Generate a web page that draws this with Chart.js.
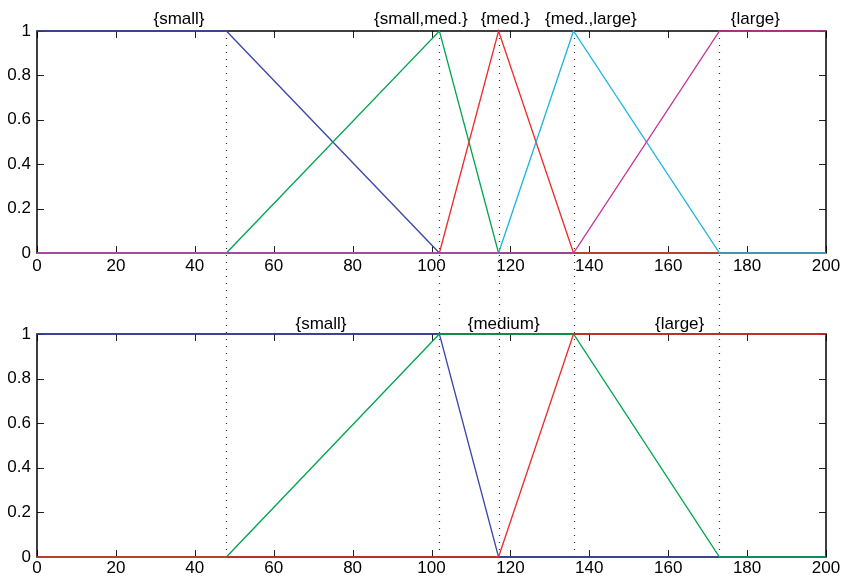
<!DOCTYPE html>
<html>
<head>
<meta charset="utf-8">
<title>Membership functions</title>
<script src="https://cdn.jsdelivr.net/npm/chart.js@4.4.0/dist/chart.umd.min.js"></script>
<style>
  html, body { margin: 0; padding: 0; background: #fff; }
  #figure { position: relative; width: 845px; height: 582px; }
  .panel { position: absolute; left: 0; width: 845px; }
  #topPanel { top: 0; height: 290px; }
  #bottomPanel { top: 290px; height: 292px; }
</style>
</head>
<body>
<div id="figure">
  <div class="panel" id="topPanel"><canvas id="topChart"></canvas></div>
  <div class="panel" id="bottomPanel"><canvas id="bottomChart"></canvas></div>
</div>
<script>
// Break points shared by both panels (dotted guides)
const breakPoints = [48, 102, 117, 136, 173];

// Upper panel: five sets
const topSmallX = [0, 48, 102, 200];
const topSmallY = [1, 1, 0, 0];
const topSmallMedX = [0, 48, 102, 117, 200];
const topSmallMedY = [0, 0, 1, 0, 0];
const topMedX = [0, 102, 117, 136, 200];
const topMedY = [0, 0, 1, 0, 0];
const topMedLargeX = [0, 117, 136, 173, 200];
const topMedLargeY = [0, 0, 1, 0, 0];
const topLargeX = [0, 136, 173, 200];
const topLargeY = [0, 0, 1, 1];

const topLabels = ["{small}", "{small,med.}", "{med.}", "{med.,large}", "{large}"];
const topLabelX = [36, 97.3, 118.7, 140.4, 182.1];

// Lower panel: three sets
const botSmallX = [0, 102, 117, 200];
const botSmallY = [1, 1, 0, 0];
const botMediumX = [0, 48, 102, 136, 173, 200];
const botMediumY = [0, 0, 1, 1, 0, 0];
const botLargeX = [0, 117, 136, 200];
const botLargeY = [0, 0, 1, 1];

const botLabels = ["{small}", "{medium}", "{large}"];
const botLabelX = [72, 118.3, 162.9];

const xTicks = [0, 20, 40, 60, 80, 100, 120, 140, 160, 180, 200];
const yTicks = [0, 0.2, 0.4, 0.6, 0.8, 1];

const BLUE = "#3c48a6";
const GREEN = "#00a650";
const RED = "#ee2a2a";
const CYAN = "#1cb5de";
const MAGENTA = "#c8329e";

const FONT = '"Liberation Sans", Helvetica, Arial, sans-serif';
const TICK_LEN = 7;

function points(xs, ys) {
    return xs.map((x, i) => ({ x: x, y: ys[i] }));
}

function series(xs, ys, color, order) {
    return {
        data: points(xs, ys),
        borderColor: color,
        borderWidth: 1.3,
        pointRadius: 0,
        tension: 0,
        fill: false,
        order: order,
        clip: 2,
    };
}

// Box, inward ticks, dotted guides and set labels
function decorPlugin(cfg) {
    return {
        id: "decor",
        beforeDatasetsDraw(chart) {
            const ctx = chart.ctx;
            const a = chart.chartArea;
            const x = chart.scales.x;
            const y = chart.scales.y;
            ctx.save();

            ctx.strokeStyle = "#222";
            ctx.lineWidth = 1;
            ctx.beginPath();
            xTicks.forEach((v) => {
                const px = Math.round(x.getPixelForValue(v)) + 0.5;
                ctx.moveTo(px, a.bottom);
                ctx.lineTo(px, a.bottom - TICK_LEN);
                ctx.moveTo(px, a.top);
                ctx.lineTo(px, a.top + TICK_LEN);
            });
            yTicks.forEach((v) => {
                const py = Math.round(y.getPixelForValue(v)) + 0.5;
                ctx.moveTo(a.left, py);
                ctx.lineTo(a.left + TICK_LEN, py);
                ctx.moveTo(a.right, py);
                ctx.lineTo(a.right - TICK_LEN, py);
            });
            ctx.stroke();

            ctx.strokeStyle = "#000";
            ctx.lineWidth = 1.5;
            ctx.strokeRect(a.left, a.top, a.right - a.left, a.bottom - a.top);

            ctx.strokeStyle = "#333";
            ctx.lineWidth = 1.2;
            ctx.setLineDash([1, 6]);
            ctx.beginPath();
            const from = cfg.dotsFromTop ? a.top : 0;
            const to = cfg.dotsFromTop ? chart.height : a.bottom;
            breakPoints.forEach((b) => {
                const px = Math.round(x.getPixelForValue(b)) + 0.5;
                ctx.moveTo(px, from);
                ctx.lineTo(px, to);
            });
            ctx.stroke();
            ctx.restore();
        },
        afterDraw(chart) {
            const ctx = chart.ctx;
            const x = chart.scales.x;
            ctx.save();
            ctx.fillStyle = "#000";
            ctx.font = "17px " + FONT;
            ctx.textAlign = "center";
            ctx.textBaseline = "alphabetic";
            cfg.labels.forEach((t, i) => {
                ctx.fillText(t, x.getPixelForValue(cfg.labelX[i]), cfg.baseline);
            });
            ctx.restore();
        },
    };
}

function axes(xHeight, xPad) {
    return {
        x: {
            type: "linear",
            min: 0,
            max: 200,
            afterBuildTicks: (s) => { s.ticks = xTicks.map((v) => ({ value: v })); },
            ticks: { color: "#000", font: { family: FONT, size: 17 }, padding: xPad, maxRotation: 0, autoSkip: false },
            grid: { display: false, drawTicks: false },
            border: { display: false },
            afterFit: (s) => { s.height = xHeight; },
        },
        y: {
            type: "linear",
            min: 0,
            max: 1,
            afterBuildTicks: (s) => { s.ticks = yTicks.map((v) => ({ value: v })); },
            ticks: {
                color: "#000",
                font: { family: FONT, size: 17 },
                padding: 6,
                callback: (v) => String(Number(v.toFixed(1))),
            },
            grid: { display: false, drawTicks: false },
            border: { display: false },
            afterFit: (s) => { s.width = 37; },
        },
    };
}

function makeChart(id, datasets, padTop, xHeight, xPad, deco) {
    return new Chart(document.getElementById(id), {
        type: "line",
        data: { datasets: datasets },
        options: {
            responsive: true,
            maintainAspectRatio: false,
            animation: false,
            layout: { padding: { top: padTop, right: 19, left: 0, bottom: 0 } },
            plugins: { legend: { display: false }, tooltip: { enabled: false } },
            scales: axes(xHeight, xPad),
        },
        plugins: [decorPlugin(deco)],
    });
}

// Later sets sit on top (lower order is drawn last)
makeChart("topChart", [
    series(topSmallX, topSmallY, BLUE, 5),
    series(topSmallMedX, topSmallMedY, GREEN, 4),
    series(topMedX, topMedY, RED, 3),
    series(topMedLargeX, topMedLargeY, CYAN, 2),
    series(topLargeX, topLargeY, MAGENTA, 1),
], 31, 37, 3, { labels: topLabels, labelX: topLabelX, baseline: 24, dotsFromTop: true });

makeChart("bottomChart", [
    series(botSmallX, botSmallY, BLUE, 3),
    series(botMediumX, botMediumY, GREEN, 2),
    series(botLargeX, botLargeY, RED, 1),
], 44, 25, 1, { labels: botLabels, labelX: botLabelX, baseline: 39, dotsFromTop: false });
</script>
</body>
</html>
